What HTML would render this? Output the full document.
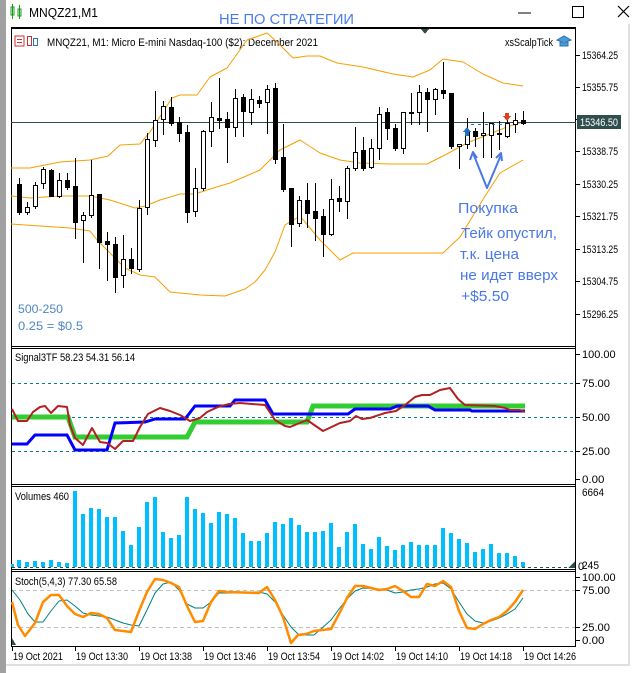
<!DOCTYPE html>
<html><head><meta charset="utf-8"><style>
html,body{margin:0;padding:0;background:#fff;width:638px;height:673px;overflow:hidden;font-family:"Liberation Sans","DejaVu Sans",sans-serif}
svg text{font-family:"Liberation Sans","DejaVu Sans",sans-serif}
</style></head><body>
<svg id="s" width="638" height="673" xmlns="http://www.w3.org/2000/svg" shape-rendering="crispEdges">
<rect x="0" y="0" width="638" height="673" fill="#fff"/>
<rect x="0" y="0" width="6" height="673" fill="#a0a0a0"/>
<rect x="628" y="24" width="2" height="640" fill="#e0e0e0"/>
<rect x="6" y="664" width="624" height="2" fill="#e0e0e0"/>
<g fill="none" stroke="#1a9a1a" stroke-width="1"><rect x="11" y="7" width="3" height="8"/><rect x="18" y="9" width="3" height="7"/><line x1="12.5" y1="4" x2="12.5" y2="19"/><line x1="19.5" y1="5" x2="19.5" y2="19"/></g>
<text x="29" y="17" font-size="13" fill="#000" textLength="69" lengthAdjust="spacingAndGlyphs">MNQZ21,M1</text>
<text x="219" y="24" font-size="15" fill="#4a7ee6" textLength="135" lengthAdjust="spacingAndGlyphs">НЕ ПО СТРАТЕГИИ</text>
<line x1="518" y1="13" x2="531" y2="13" stroke="#000"/>
<rect x="572.5" y="6.5" width="11" height="11" fill="none" stroke="#000"/>
<path d="M618 6 L629 17 M629 6 L618 17" stroke="#000" stroke-width="1.2" shape-rendering="auto"/>
<g fill="none" stroke="#000" stroke-width="1">
<rect x="11.5" y="27.5" width="564" height="619"/>
<line x1="11" y1="346.5" x2="576" y2="346.5"/><line x1="11" y1="348.5" x2="576" y2="348.5"/>
<line x1="11" y1="484.5" x2="576" y2="484.5"/><line x1="11" y1="486.5" x2="576" y2="486.5"/>
<line x1="11" y1="569.5" x2="576" y2="569.5"/><line x1="11" y1="571.5" x2="576" y2="571.5"/>
</g>
<rect x="11" y="27" width="565" height="2" fill="#000"/>
<g id="g"></g>
</svg>
<script>
var NS="http://www.w3.org/2000/svg",G=document.getElementById("g");
function el(t,a,txt){var e=document.createElementNS(NS,t);for(var k in a)e.setAttribute(k,a[k]);if(txt!=null)e.textContent=txt;G.appendChild(e);return e;}
function tx(x,y,fs,c,s,L){var a={x:x,y:y,"font-size":fs,fill:c};if(L){a.textLength=L;a.lengthAdjust="spacingAndGlyphs";}return el("text",a,s);}
function pl(pts,c,w,extra){var a={points:pts.map(function(p){return p.join(",")}).join(" "),fill:"none",stroke:c,"stroke-width":w,"shape-rendering":"auto","stroke-linejoin":"round"};for(var k in extra)a[k]=extra[k];el("polyline",a);}
el("rect",{x:15,y:36,width:9,height:10,fill:"none",stroke:"#d03030"});
el("line",{x1:17,y1:39.5,x2:22,y2:39.5,stroke:"#d03030"});el("line",{x1:17,y1:42.5,x2:22,y2:42.5,stroke:"#d03030"});
el("rect",{x:27.5,y:36.5,width:4,height:9,fill:"none",stroke:"#d03030"});el("rect",{x:33.5,y:38.5,width:4,height:7,fill:"none",stroke:"#3070c0"});
tx(47,46,11,"#000","MNQZ21, M1:  Micro E-mini Nasdaq-100 ($2): December 2021",271);
tx(505,46,11,"#000","xsScalpTick",48);
el("path",{d:"M557 40 L564 36 L571 40 L564 43 Z M560 42 L560 46 L568 46 L568 42",fill:"#4a9ad8",stroke:"#2a70b0","shape-rendering":"auto"});
el("path",{d:"M421 29 L429 29 L425 34 Z",fill:"#2f4f4f"});
var pl_=[["15364.25",55],["15355.75",87],["15338.75",151],["15330.25",184],["15321.75",216],["15313.25",249],["15304.75",281],["15296.25",314]];
pl_.forEach(function(p){el("line",{x1:576,y1:p[1]+.5,x2:580,y2:p[1]+.5,stroke:"#000"});tx(582,p[1]+4,11,"#000",p[0],36);});
el("line",{x1:576,y1:119.5,x2:580,y2:119.5,stroke:"#000"});
var up=[[11,168],[30,168],[60,162],[90,160],[108,156],[120,145],[140,144],[150,132],[172,98],[180,95],[197,95],[210,77],[227,68],[247,40],[267,33],[277,42],[293,58],[307,56],[320,56],[337,63],[363,67],[393,74],[413,77],[430,70],[443,59],[463,62],[483,74],[503,83],[523,86]];
var mid=[[11,196],[30,198],[60,196],[90,196],[110,200],[135,208],[145,206],[160,200],[180,194],[195,194],[210,189],[230,183],[260,170],[280,150],[300,140],[320,153],[340,160],[360,163],[390,164],[427,164],[445,155],[467,143],[487,135],[507,127],[523,122]];
var lo=[[11,224],[40,226],[70,228],[90,231],[97,240],[110,253],[125,268],[140,275],[155,277],[170,292],[200,295],[225,296],[245,289],[255,282],[265,270],[275,252],[285,225],[300,216],[320,240],[340,260],[353,253],[393,253],[443,253],[460,237],[487,193],[500,173],[523,160]];
[up,mid,lo].forEach(function(a){pl(a,"#f5a000",1);});
el("line",{x1:11,y1:122.5,x2:576,y2:122.5,stroke:"#2f4f4f"});
el("rect",{x:577,y:115,width:44,height:14,fill:"#2f4f4f"});
tx(580,126,11,"#fff","15346.50",38);
var C=[[184,212,178,214,1],[207,212,202,214,0],[185,206,182,208,0],[169,183,167,188,0],[170,196,169,196,1],[180,196,173,197,0],[180,187,173,189,1],[186,222,158,238,1],[215,220,212,262,0],[195,215,160,217,0],[194,242,194,268,1],[241,244,232,280,1],[244,277,237,292,1],[259,275,235,287,0],[259,268,248,273,1],[208,269,200,271,0],[139,207,133,214,0],[120,140,91,146,0],[106,119,101,134,0],[107,123,97,125,1],[122,133,117,141,1],[132,212,125,222,1],[188,211,168,216,0],[131,188,130,190,0],[117,131,102,146,0],[118,120,78,128,1],[119,127,112,162,1],[98,127,89,136,0],[97,111,94,136,1],[99,112,89,124,0],[100,103,96,107,1],[89,102,85,133,0],[88,159,83,163,1],[157,189,124,191,1],[188,224,188,246,1],[200,223,196,226,0],[200,213,183,227,1],[211,218,183,240,1],[216,234,209,256,1],[199,234,179,235,0],[198,201,186,211,1],[168,201,166,218,0],[152,168,127,170,0],[150,168,137,170,1],[148,167,139,168,0],[114,148,107,159,0],[112,128,108,139,1],[128,148,124,150,1],[112,148,112,153,0],[112,113,93,124,1],[92,112,85,124,0],[92,99,88,131,1],[89,99,88,114,0],[90,93,62,98,1],[93,146,93,148,1],[144,146,144,168,0],[131,144,118,148,0],[131,136,128,146,1],[133,135,112,157,0],[123,135,123,157,0],[133,134,121,149,1],[123,136,120,137,0],[120,124,113,132,0],[120,123,111,124,1]];
C.forEach(function(c,i){var x=19+8*i;
 el("line",{x1:x+.5,y1:c[2],x2:x+.5,y2:c[3]+1,stroke:"#000"});
 var h=Math.max(c[1]-c[0],1);
 if(c[4])el("rect",{x:x-2,y:c[0],width:5,height:h+1,fill:"#000"});
 else el("rect",{x:x-1.5,y:c[0]+.5,width:4,height:h,fill:"#fff",stroke:"#000"});
});
tx(18,313,12,"#4f86c6","500-250",45);
tx(18,330,12,"#4f86c6","0.25 = $0.5",65);
var B="#4a78e6";
tx(458,213,15,B,"Покупка",60);
tx(461,238,15,B,"Тейк опустил,",96);
tx(460,259,15,B,"т.к. цена",59);
tx(460,280,15,B,"не идет вверх",98);
tx(461,301,15,B,"+$5.50",48);
pl([[473,153],[487,188],[501,155]],B,2);
pl([[470,160],[473,152],[477,158]],B,2);pl([[496,158],[501,153],[502,161]],B,2);
el("path",{d:"M467 127 L471 132 L469 132 L469 136 L465 136 L465 132 L463 132 Z",fill:"#2070c0"});
el("path",{d:"M507 121 L503 116 L505 116 L505 113 L509 113 L509 116 L511 116 Z",fill:"#e04020"});
el("line",{x1:471,y1:124.5,x2:505,y2:124.5,stroke:"#2070c0","stroke-dasharray":"3,4"});
tx(15,361,11,"#000","Signal3TF 58.23 54.31 56.14",120);
[383,417,451].forEach(function(y){el("line",{x1:12,y1:y+.5,x2:575,y2:y+.5,stroke:"#008080","stroke-dasharray":"3,3"});});
[["100.00",354],["75.00",383],["50.00",417],["25.00",451],["0.00",479]].forEach(function(p){el("line",{x1:576,y1:p[1]+.5,x2:580,y2:p[1]+.5,stroke:"#000"});tx(582,p[1]+4,11,"#000",p[0],p[0].length*5.6);});
pl([[12,417],[68,417],[75,437],[187,437],[195,422],[307,422],[313,406],[525,406]],"#32cd32",5,{"stroke-linejoin":"miter"});
pl([[12,444],[27,444],[35,435],[67,435],[75,450],[107,450],[115,423],[145,422],[155,419],[185,419],[195,406],[230,406],[235,400],[265,400],[273,414],[348,414],[355,409],[390,409],[397,406],[428,406],[435,410],[470,410],[472,411],[525,411]],"#0000ff",3,{"stroke-linejoin":"miter"});
pl([[12,409],[18,421],[27,421],[33,412],[40,407],[45,406],[51,413],[58,406],[67,407],[70,425],[75,438],[83,445],[92,428],[100,442],[107,443],[115,449],[123,441],[133,441],[140,427],[148,414],[160,408],[170,411],[180,415],[190,421],[200,418],[207,412],[218,407],[229,404],[240,403],[265,405],[275,420],[285,426],[290,427],[307,420],[323,431],[340,423],[350,421],[356,416],[362,419],[370,418],[385,413],[396,411],[405,405],[415,397],[422,395],[430,395],[440,390],[450,388],[458,399],[465,405],[495,406],[505,408],[510,410],[520,410],[525,412]],"#b22222",2);
var V=[225,231,228,231,225,231,234,18,87,69,72,96,96,138,180,126,51,36,141,159,150,36,72,84,114,81,87,99,144,168,168,144,111,117,99,120,141,141,138,114,186,141,117,177,192,156,183,195,180,171,180,180,180,129,144,162,174,201,192,177,204,204,213,231];
el("line",{x1:12,y1:567.5,x2:575,y2:567.5,stroke:"#2f4f4f","stroke-dasharray":"3,3"});
el("rect",{x:11,y:564,width:3,height:3,fill:"#00bfff"});
V.forEach(function(v,i){var x=19+8*i,y=485+v/3;el("rect",{x:x-2,y:y,width:4,height:567-y,fill:"#00bfff"});});
tx(15,500,11,"#000","Volumes 460",54);
tx(582,496,11,"#000","6664",22);
tx(582,569,11,"#000","245",17);
tx(578,570,11,"#000","0",6);
el("path",{d:"M568 568 L575 561 L575 568 Z",fill:"#2f4f4f"});
tx(15,585,11,"#000","Stoch(5,4,3) 77.30 65.58",102);
[590,627].forEach(function(y){el("line",{x1:12,y1:y+.5,x2:575,y2:y+.5,stroke:"#c0c0c0","stroke-dasharray":"4,3"});});
[["100.00",577],["75.00",590],["25.00",627],["0.00",640]].forEach(function(p){el("line",{x1:576,y1:p[1]+.5,x2:580,y2:p[1]+.5,stroke:"#000"});tx(582,p[1]+4,11,"#000",p[0],p[0].length*5.6);});
pl([[12,590],[20,600],[28,614],[35,622],[43,622],[51,611],[59,601],[67,600],[75,606],[83,613],[91,615],[99,616],[107,617],[115,620],[123,623],[131,625],[139,626],[147,610],[155,593],[163,584],[171,582],[179,590],[187,604],[195,608],[203,608],[211,602],[219,593],[243,593],[251,592],[259,592],[267,594],[275,602],[283,615],[291,627],[299,635],[314,635],[322,628],[331,620],[339,609],[347,599],[355,591],[363,588],[379,589],[387,590],[395,593],[403,592],[411,590],[419,589],[427,587],[435,584],[443,583],[451,589],[459,602],[467,614],[475,621],[483,623],[491,621],[499,618],[507,614],[515,609],[523,598]],"#008080",1);
pl([[12,602],[18,625],[25,636],[35,623],[43,602],[51,595],[59,595],[67,606],[75,614],[83,617],[91,613],[99,614],[107,618],[115,630],[123,631],[131,632],[139,611],[147,592],[155,579],[163,580],[171,583],[179,587],[187,606],[195,622],[203,621],[211,602],[219,591],[227,592],[259,593],[267,587],[275,600],[283,617],[291,643],[298,635],[306,634],[314,631],[322,630],[331,629],[339,614],[347,598],[355,586],[363,586],[371,588],[379,590],[387,589],[395,586],[403,591],[411,597],[419,597],[427,584],[435,586],[443,581],[451,587],[459,611],[467,628],[475,629],[483,624],[491,620],[499,617],[507,611],[515,602],[523,590]],"#ff8c00",2.5);
el("path",{d:"M12 638 L16 645 L12 645 Z",fill:"#2f4f4f"});
var T=["19 Oct 2021","19 Oct 13:30","19 Oct 13:38","19 Oct 13:46","19 Oct 13:54","19 Oct 14:02","19 Oct 14:10","19 Oct 14:18","19 Oct 14:26"];
T.forEach(function(t,i){var x=i?11+64*i:12;el("line",{x1:x+.5,y1:647,x2:x+.5,y2:651,stroke:"#000"});tx(x+1,660,11,"#000",t,i?52:50);});
</script>
</body></html>
